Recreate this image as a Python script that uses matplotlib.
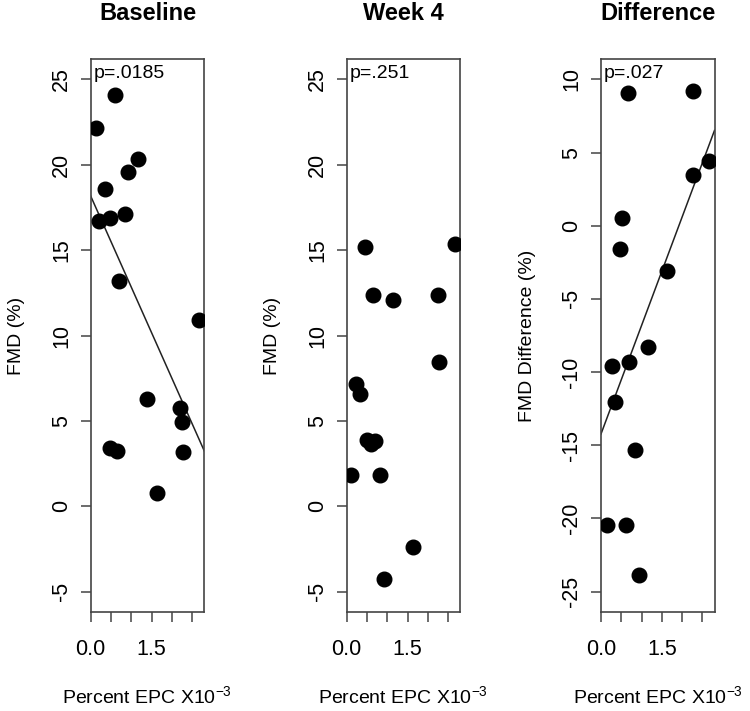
import numpy as np
import matplotlib
matplotlib.use('Agg')
import matplotlib.pyplot as plt

plt.rcParams['font.family'] = ['Liberation Sans', 'DejaVu Sans']
plt.rcParams['mathtext.fontset'] = 'custom'
plt.rcParams['mathtext.rm'] = 'Liberation Sans'

# Baseline panel (percent EPC x10^-3 vs FMD %)
base_x = [0.13, 0.59, 1.17, 0.91, 0.35, 0.21, 0.48, 0.85, 0.69, 2.67,
          1.38, 2.20, 2.26, 2.27, 1.63, 0.48, 0.66]
base_y = [22.16, 24.08, 20.37, 19.59, 18.6, 16.73, 16.87, 17.12, 13.17, 10.89,
          6.30, 5.78, 4.94, 3.19, 0.75, 3.38, 3.24]
base_fit = [18.17, -5.33]   # intercept, slope

# Week 4 panel
wk4_x = [0.45, 2.68, 0.65, 1.15, 2.26, 2.28, 0.23, 0.34, 0.50, 0.60,
         0.70, 0.11, 0.83, 1.63, 0.91]
wk4_y = [15.21, 15.35, 12.39, 12.06, 12.39, 8.44, 7.18, 6.55, 3.89, 3.64,
         3.79, 1.84, 1.84, -2.40, -4.25]

# Difference panel
diff_x = [0.67, 2.27, 2.66, 2.27, 0.52, 0.48, 1.64, 1.17, 0.26, 0.70,
          0.34, 0.85, 0.14, 0.61, 0.93]
diff_y = [9.09, 9.20, 4.43, 3.50, 0.54, -1.61, -3.09, -8.32, -9.57, -9.34,
          -12.07, -15.30, -20.46, -20.46, -23.89]
diff_fit = [-14.23, 7.41]

titles = ['Baseline', 'Week 4', 'Difference']
p_labels = ['p=.0185', 'p=.251', 'p=.027']
y_labels = ['FMD (%)', 'FMD (%)', 'FMD Difference (%)']
x_label = 'Percent EPC X10$^{\\mathregular{-3}}$'
x_ticks = [0, 0.5, 1.0, 1.5, 2.0, 2.5]
x_ticklabels = ['0.0', '', '', '1.5', '', '']
y_ticks_fmd = [-5, 0, 5, 10, 15, 20, 25]
y_ticks_diff = [-25, -20, -15, -10, -5, 0, 5, 10]

fig = plt.figure(figsize=(7.5, 7.11), dpi=100)
lefts = [90.7, 346.7, 601]
W, H = 750, 711
ax_w = 113.5
bottom, top = 612, 59

panels = [(base_x, base_y, base_fit, y_ticks_fmd, (-5, 25)),
          (wk4_x, wk4_y, None, y_ticks_fmd, (-5, 25)),
          (diff_x, diff_y, diff_fit, y_ticks_diff, (-25, 10))]

edge = '#444444'
for i, (xs, ys, fit, yt, (ylo, yhi)) in enumerate(panels):
    ax = fig.add_axes([lefts[i] / W, 1 - bottom / H, ax_w / W, (bottom - top) / H])
    ax.plot(xs, ys, 'o', color='black', markersize=10.5, zorder=3)
    ax.set_xlim(0, 2.8)
    pad = (yhi - ylo) * 0.04
    ax.set_ylim(ylo - pad, yhi + pad)
    if fit is not None:
        xx = np.array([0, 2.8])
        ax.plot(xx, fit[0] + fit[1] * xx, color='#222222', lw=1.1, zorder=2)
    ax.set_xticks(x_ticks)
    ax.set_xticklabels(x_ticklabels)
    ax.set_yticks(yt)
    ax.set_yticklabels([str(v) for v in yt])
    for lbl in ax.get_yticklabels():
        lbl.set_rotation(90)
        lbl.set_va('center')
    ax.tick_params(axis='both', direction='out', length=7.5, width=1.1,
                   color=edge, labelsize=15.5, pad=6)
    ax.tick_params(axis='x', pad=12)
    for sp in ax.spines.values():
        sp.set_color(edge)
        sp.set_linewidth(1.2)
    ax.set_title(titles[i], fontsize=17, fontweight='bold', pad=28)
    ax.text(3 / ax_w, 1 - 14 / (bottom - top), p_labels[i], transform=ax.transAxes,
            fontsize=14, va='center', ha='left')
    ax.set_ylabel(y_labels[i], fontsize=14)
    ax.yaxis.set_label_coords(-74 / ax_w, 0.5)
    ax.yaxis.label.set_va('center')
    ax.set_xlabel(x_label, fontsize=14)
    ax.xaxis.set_label_coords(0.5, -85 / (bottom - top))
    ax.xaxis.label.set_va('center')

plt.savefig('out.png', dpi=100)
